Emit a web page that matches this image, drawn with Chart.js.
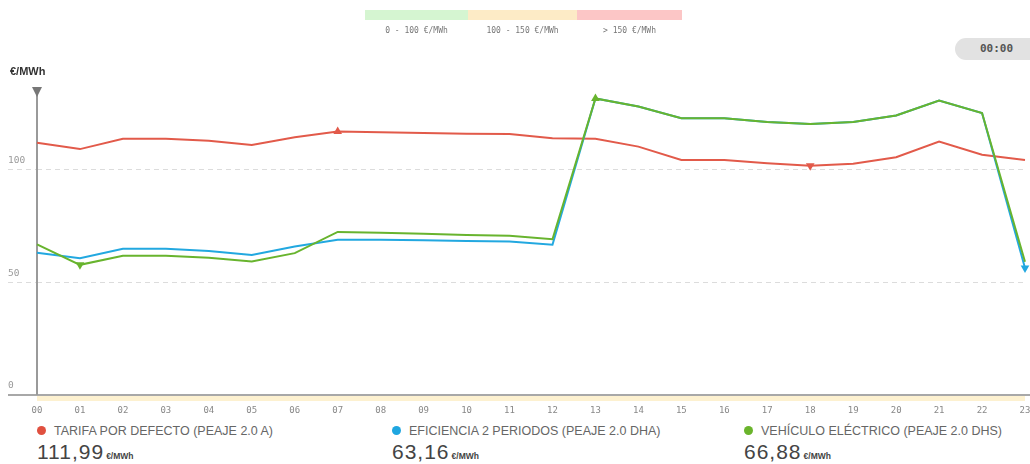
<!DOCTYPE html>
<html>
<head>
<meta charset="utf-8">
<script src="https://cdn.jsdelivr.net/npm/chart.js@4/dist/chart.umd.min.js"></script>
<style>
  body { margin: 0; background: #fff; font-family: "Liberation Sans", Arial, sans-serif; }
  #wrap { position: relative; width: 1030px; height: 464px; overflow: hidden; }
  #chart { position: absolute; left: 0; top: 0; }
  .bar { position: absolute; top: 10px; height: 10px; }
  .rng { position: absolute; top: 26px; font: 8px "DejaVu Sans Mono", monospace; color: #777; text-align: center; }
  #unit { position: absolute; left: 10px; top: 65px; font: bold 11px "Liberation Sans", Arial, sans-serif; color: #333; }
  #clock { position: absolute; left: 955px; top: 38px; width: 90px; height: 22px; border-radius: 11px; background: #e2e2e2;
           font: bold 11px "DejaVu Sans Mono", monospace; color: #555; line-height: 22px; text-indent: 25px; }
  .leg { position: absolute; top: 424px; }
  .leg .name { font-size: 12.5px; color: #666; white-space: nowrap; }
  .leg .dot { display: inline-block; width: 9px; height: 9px; border-radius: 50%; margin-right: 8px; vertical-align: 0; }
  .leg .val { font-size: 21px; color: #444; margin-top: 2px; letter-spacing: 1px; white-space: nowrap; }
  .leg .val small { font-size: 8.5px; font-weight: bold; letter-spacing: 0; margin-left: 2px; }
</style>
</head>
<body>
<div id="wrap">
  <canvas id="chart" width="1030" height="420"></canvas>
  <div class="bar" style="left:365px;width:103px;background:#d5f5d1"></div>
  <div class="bar" style="left:468px;width:109px;background:#fdebc6"></div>
  <div class="bar" style="left:577px;width:105px;background:#fcc6c6"></div>
  <div class="rng" style="left:365px;width:103px">0 - 100 €/MWh</div>
  <div class="rng" style="left:468px;width:109px">100 - 150 €/MWh</div>
  <div class="rng" style="left:577px;width:105px">&gt; 150 €/MWh</div>
  <div id="unit">€/MWh</div>
  <div id="clock">00:00</div>
  <div class="leg" style="left:37px">
    <div class="name"><span class="dot" style="background:#e0503f"></span>TARIFA POR DEFECTO (PEAJE 2.0 A)</div>
    <div class="val">111,99<small>€/MWh</small></div>
  </div>
  <div class="leg" style="left:392px">
    <div class="name"><span class="dot" style="background:#1fa6e0"></span>EFICIENCIA 2 PERIODOS (PEAJE 2.0 DHA)</div>
    <div class="val">63,16<small>€/MWh</small></div>
  </div>
  <div class="leg" style="left:744px">
    <div class="name"><span class="dot" style="background:#6ab42c"></span>VEHÍCULO ELÉCTRICO (PEAJE 2.0 DHS)</div>
    <div class="val">66,88<small>€/MWh</small></div>
  </div>
</div>
<script>
const hours = ['00','01','02','03','04','05','06','07','08','09','10','11','12','13','14','15','16','17','18','19','20','21','22','23'];
const tarifa = [111.99,109.2,113.8,113.8,112.9,111.0,114.5,117.0,116.7,116.4,116.0,115.9,114.0,113.8,110.3,104.4,104.4,102.9,101.8,102.7,105.6,112.6,106.7,104.4];
const eficiencia = [63.16,60.7,64.9,64.9,64.0,62.2,65.9,68.9,68.9,68.7,68.4,68.2,66.7,131.7,128.1,122.9,122.9,121.2,120.3,121.2,124.1,130.8,125.2,56.4];
const vehiculo = [66.88,57.8,61.8,61.8,60.9,59.3,63.0,72.4,72.0,71.6,71.1,70.7,69.2,131.7,128.1,122.9,122.9,121.2,120.3,121.2,124.1,130.8,125.2,59.2];
const yTicks = [0, 50, 100];

// marcadores de maximo (triangulo arriba) y minimo (triangulo abajo)
function marks(data, showMax, showMin) {
  const mx = data.indexOf(Math.max(...data));
  const mn = data.indexOf(Math.min(...data));
  return {
    radius: data.map((v, i) => (showMax && i === mx) || (showMin && i === mn) ? 5 : 0),
    rotation: data.map((v, i) => i === mn ? 180 : 0)
  };
}
function serie(label, data, color, order, showMax, showMin) {
  const m = marks(data, showMax, showMin);
  return {
    label: label, data: data, borderColor: color, backgroundColor: color,
    borderWidth: 2, tension: 0, order: order,
    pointStyle: 'triangle', pointRadius: m.radius, pointRotation: m.rotation,
    pointBorderWidth: 0, pointHoverRadius: 0
  };
}

const decor = {
  id: 'decor',
  beforeDatasetsDraw(chart) {
    const c = chart.ctx, a = chart.chartArea;
    c.save();
    // banda amarilla bajo el eje x
    c.fillStyle = '#fdf1d0';
    c.fillRect(a.left, a.bottom + 1, a.right - a.left, 5);
    // eje x
    c.strokeStyle = '#a8a8a8'; c.lineWidth = 2;
    c.beginPath(); c.moveTo(8, a.bottom); c.lineTo(1030, a.bottom); c.stroke();
    // eje y con flecha
    c.strokeStyle = '#9a9a9a';
    c.beginPath(); c.moveTo(a.left, a.top + 4); c.lineTo(a.left, a.bottom); c.stroke();
    c.fillStyle = '#777';
    c.beginPath(); c.moveTo(a.left - 5, a.top - 4); c.lineTo(a.left + 5, a.top - 4); c.lineTo(a.left, a.top + 6); c.closePath(); c.fill();
    c.restore();
  }
};

new Chart(document.getElementById('chart').getContext('2d'), {
  type: 'line',
  data: {
    labels: hours,
    datasets: [
      serie('TARIFA POR DEFECTO (PEAJE 2.0 A)', tarifa, '#e25a4a', 2, true, true),
      serie('EFICIENCIA 2 PERIODOS (PEAJE 2.0 DHA)', eficiencia, '#22a8e0', 1, false, true),
      serie('VEHÍCULO ELÉCTRICO (PEAJE 2.0 DHS)', vehiculo, '#68b42e', 0, true, true)
    ]
  },
  options: {
    responsive: false,
    animation: false,
    layout: { padding: { left: 8, top: 91, right: 5, bottom: 0 } },
    plugins: { legend: { display: false }, tooltip: { enabled: false } },
    scales: {
      x: {
        offset: false,
        grid: { display: false },
        border: { display: false },
        ticks: { color: '#888', font: { family: 'DejaVu Sans Mono', size: 9 }, padding: 2, maxRotation: 0, autoSkip: false },
        afterFit: s => { s.height = 25; s.paddingLeft = 0; s.paddingRight = 0; }
      },
      y: {
        min: 0, max: 135,
        afterBuildTicks: s => { s.ticks = yTicks.map(v => ({ value: v })); },
        border: { display: false, dash: [5, 4] },
        grid: {
          color: c => c.tick && c.tick.value === 0 ? 'rgba(0,0,0,0)' : '#dcdcdc',
          tickColor: c => c.tick && c.tick.value === 0 ? 'rgba(0,0,0,0)' : '#dcdcdc',
          tickLength: 29, tickBorderDash: [5, 4], lineWidth: 1
        },
        ticks: { color: '#999', font: { family: 'DejaVu Sans Mono', size: 9.5 }, crossAlign: 'far', labelOffset: -9 },
        afterFit: s => { s.width = 29; s.paddingTop = 0; s.paddingBottom = 0; }
      }
    }
  },
  plugins: [decor]
});
</script>
</body>
</html>
